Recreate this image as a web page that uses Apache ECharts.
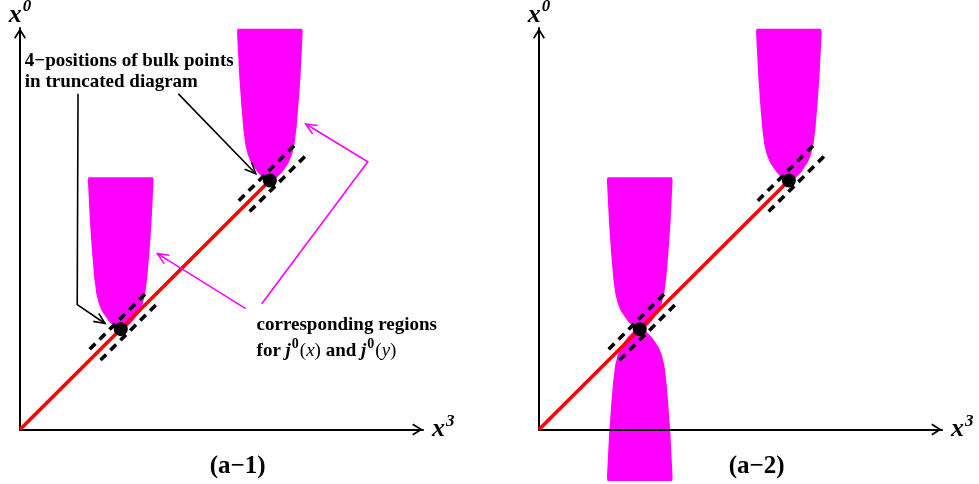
<!DOCTYPE html>
<html><head><meta charset="utf-8">
<script src="https://cdn.jsdelivr.net/npm/echarts@6/dist/echarts.min.js"></script>
<style>html,body{margin:0;padding:0;background:#fff}#c{width:979px;height:484px}</style>
</head><body><div id="c"></div>
<script>
// ---------- data (axis units, both axes 0..10) ----------
const axisMin = 0;
const axisMax = 10;
const bulkPointX = [2.5, 6.2];
const bulkPointY = [2.5, 6.2];
const diagonalX = [0, 6.2];
const diagonalY = [0, 6.2];
// profile of a j^0 region: rise above/below its bulk point and half width
const regionRise = [0, 0.02, 0.06, 0.12, 0.2, 0.3, 0.45, 0.65, 0.9, 1.3, 1.9, 2.6, 3.7, 3.78];
const regionHalfWidth = [0, 0.087, 0.16, 0.22, 0.30, 0.37, 0.47, 0.55, 0.61, 0.66, 0.71, 0.76, 0.815, 0.80];
// regions: [x, y, direction (1 = upward, -1 = downward)]
const regionsA1 = [[2.5, 2.5, 1], [6.2, 6.2, 1]];
const regionsA2 = [[2.5, 2.5, 1], [2.5, 2.5, -1], [6.2, 6.2, 1]];
// dashed band around each bulk point (along the diagonal / half gap across it)
const bandAlong = [-0.9, 1.07];
const bandHalfGap = 0.19;
// annotation arrows (polylines, arrow head at the last point)
const blackArrows = [
  [[1.44, 8.36], [1.42, 3.11], [2.11, 2.64]],
  [[3.93, 8.36], [5.85, 6.37]]
];
const magentaArrows = [
  [[5.60, 3.01], [3.41, 4.38]],
  [[6.00, 3.13], [8.63, 6.67], [7.09, 7.61]]
];
const noteAnchors = [[0.12, 9.44], [5.87, 2.86]];
const noteTexts = [
  '{b|4\u2212positions of bulk points}\n{b|in truncated diagram}',
  '{b|corresponding regions}\n{b|for }{j|j}{s|0}{p|(}{i|x}{p|) }{b|and }{j|j}{s|0}{p|(}{i|y}{p|)}'
];
const captionAnchor = [5.4, -0.93];
const panelCaptions = ['(a\u22121)', '(a\u22122)'];
const xAxisName = '{x|x}{s|3}';
const yAxisName = '{x|x}{s|0}';

// ---------- styles ----------
const MAGENTA = '#ff00ff';
const SERIF = 'Liberation Serif';
const chevron = 'path://M6,0 L12,9.5 L10.6,10.5 L6,3.2 L1.4,10.5 L0,9.5 Z';

function renderRegion(params, api) {
  const cx = api.value(0), cy = api.value(1), dir = api.value(2);
  const right = [], left = [];
  for (let i = 0; i < regionRise.length; i++) {
    right.push(api.coord([cx + regionHalfWidth[i], cy + dir * regionRise[i]]));
    left.push(api.coord([cx - regionHalfWidth[i], cy + dir * regionRise[i]]));
  }
  return {type: 'polygon', shape: {points: right.concat(left.reverse())}, style: {fill: MAGENTA}};
}
function renderBand(params, api) {
  const cx = api.value(0), cy = api.value(1);
  const s = Math.SQRT1_2;
  const children = [-1, 1].map(side => {
    const ox = side * bandHalfGap * s, oy = -side * bandHalfGap * s;
    const p1 = api.coord([cx + bandAlong[0] * s + ox, cy + bandAlong[0] * s + oy]);
    const p2 = api.coord([cx + bandAlong[1] * s + ox, cy + bandAlong[1] * s + oy]);
    return {type: 'line', shape: {x1: p1[0], y1: p1[1], x2: p2[0], y2: p2[1]},
      style: {stroke: '#000', lineWidth: 3.6, lineDash: [8, 6], lineCap: 'butt'}};
  });
  return {type: 'group', children};
}
function arrowGroup(points, color, api) {
  const px = points.map(p => api.coord(p));
  const n = px.length;
  const ex = px[n - 1][0], ey = px[n - 1][1], sx = px[n - 2][0], sy = px[n - 2][1];
  const ang = Math.atan2(ey - sy, ex - sx);
  const L = 12, A = 0.42;
  const h1 = [ex - L * Math.cos(ang - A), ey - L * Math.sin(ang - A)];
  const h2 = [ex - L * Math.cos(ang + A), ey - L * Math.sin(ang + A)];
  return {type: 'group', children: [
    {type: 'polyline', shape: {points: px}, style: {stroke: color, lineWidth: 1.6, fill: 'none'}},
    {type: 'polyline', shape: {points: [h1, [ex, ey], h2]}, style: {stroke: color, lineWidth: 1.6, fill: 'none'}}
  ]};
}
const noteRich = {
  b: {fontFamily: SERIF, fontWeight: 'bold', fontSize: 19, lineHeight: 21, fill: '#000'},
  j: {fontFamily: SERIF, fontWeight: 'bold', fontStyle: 'italic', fontSize: 19, lineHeight: 30, fill: '#000'},
  i: {fontFamily: SERIF, fontStyle: 'italic', fontSize: 19, lineHeight: 30, fill: '#000'},
  p: {fontFamily: SERIF, fontSize: 19, lineHeight: 30, fill: '#000'},
  s: {fontFamily: SERIF, fontWeight: 'bold', fontSize: 14, lineHeight: 14, padding: [0, 1, 13, 1], fill: '#000'}
};
const axisNameStyle = {
  rich: {
    x: {fontFamily: SERIF, fontWeight: 'bold', fontStyle: 'italic', fontSize: 26, lineHeight: 24, color: '#000'},
    s: {fontFamily: SERIF, fontWeight: 'bold', fontStyle: 'italic', fontSize: 17, lineHeight: 17, padding: [0, 0, 16, 1], color: '#000'}
  }
};

const grids = [], xAxes = [], yAxes = [], series = [];
[[20, regionsA1, true], [539, regionsA2, false]].forEach(([left, regions, annotated], g) => {
  grids.push({left: left, top: 28, width: 403, height: 401.5, outerBoundsMode: 'none', containLabel: false});
  const axisCommon = {
    gridIndex: g, type: 'value', min: axisMin, max: axisMax, z: 3,
    axisLine: {show: true, onZero: false, symbol: ['none', chevron], symbolSize: [12, 11], symbolOffset: [0, -5.5],
      lineStyle: {color: '#000', width: 2}},
    axisTick: {show: false}, axisLabel: {show: false}, splitLine: {show: false},
    nameTextStyle: axisNameStyle
  };
  xAxes.push(Object.assign({}, axisCommon, {name: xAxisName, nameLocation: 'end', nameGap: 9}));
  yAxes.push(Object.assign({}, axisCommon, {name: yAxisName, nameLocation: 'end', nameGap: 1}));

  series.push({
    type: 'custom', name: 'j0 regions', xAxisIndex: g, yAxisIndex: g, z: 1, clip: false, silent: true,
    data: regions, renderItem: renderRegion
  });
  series.push({
    type: 'line', name: 'diagonal', xAxisIndex: g, yAxisIndex: g, z: 4, symbol: 'none', silent: true,
    data: diagonalX.map((x, i) => [x, diagonalY[i]]),
    lineStyle: {color: '#ff0000', width: 3.6, opacity: 1}
  });
  series.push({
    type: 'custom', name: 'bands', xAxisIndex: g, yAxisIndex: g, z: 5, clip: false, silent: true,
    data: bulkPointX.map((x, i) => [x, bulkPointY[i]]), renderItem: renderBand
  });
  series.push({
    type: 'scatter', name: 'bulk points', xAxisIndex: g, yAxisIndex: g, z: 6, silent: true,
    symbol: 'circle', symbolSize: 14, itemStyle: {color: '#000', opacity: 1},
    data: bulkPointX.map((x, i) => [x, bulkPointY[i]])
  });
  series.push({
    type: 'custom', name: 'caption', xAxisIndex: g, yAxisIndex: g, z: 6, clip: false, silent: true,
    data: [captionAnchor],
    renderItem: (p, api) => {
      const c = api.coord([api.value(0), api.value(1)]);
      return {type: 'text', x: c[0], y: c[1], style: {text: panelCaptions[g], fill: '#000',
        fontFamily: SERIF, fontWeight: 'bold', fontSize: 25, align: 'center', verticalAlign: 'middle'}};
    }
  });
  if (annotated) {
    series.push({
      type: 'custom', name: 'black arrows', xAxisIndex: g, yAxisIndex: g, z: 7, clip: false, silent: true,
      data: blackArrows.map((a, i) => [a[0][0], a[0][1], i]),
      renderItem: (p, api) => arrowGroup(blackArrows[api.value(2)], '#000', api)
    });
    series.push({
      type: 'custom', name: 'magenta arrows', xAxisIndex: g, yAxisIndex: g, z: 7, clip: false, silent: true,
      data: magentaArrows.map((a, i) => [a[0][0], a[0][1], i]),
      renderItem: (p, api) => arrowGroup(magentaArrows[api.value(2)], MAGENTA, api)
    });
    series.push({
      type: 'custom', name: 'notes', xAxisIndex: g, yAxisIndex: g, z: 8, clip: false, silent: true,
      data: noteAnchors.map((a, i) => [a[0], a[1], i]),
      renderItem: (p, api) => {
        const c = api.coord([api.value(0), api.value(1)]);
        return {type: 'text', x: c[0], y: c[1], style: {text: noteTexts[api.value(2)], rich: noteRich,
          align: 'left', verticalAlign: 'top'}};
      }
    });
  }
});

const chart = echarts.init(document.getElementById('c'), null, {renderer: 'canvas'});
chart.setOption({
  backgroundColor: '#fff',
  animation: false,
  grid: grids, xAxis: xAxes, yAxis: yAxes, series: series
});
</script></body></html>
